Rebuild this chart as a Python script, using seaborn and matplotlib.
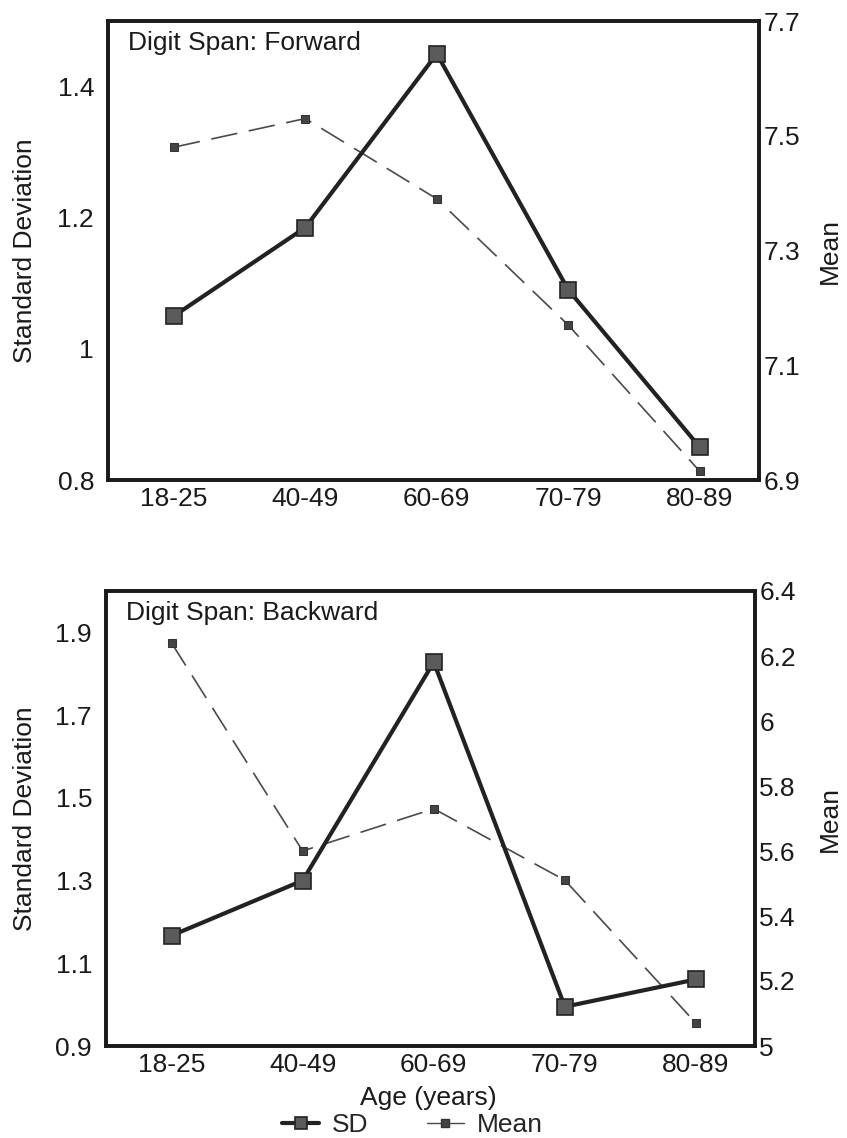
import matplotlib
matplotlib.use("Agg")
import matplotlib.pyplot as plt
import seaborn as sns
import pandas as pd
from matplotlib.lines import Line2D

sns.set_theme(style="white")
plt.rcParams['font.family'] = ['Liberation Sans', 'DejaVu Sans']

ages = ["18-25", "40-49", "60-69", "70-79", "80-89"]
fwd_sd = [1.05, 1.185, 1.45, 1.09, 0.85]
fwd_mean = [7.48, 7.53, 7.39, 7.17, 6.915]
bwd_sd = [1.167, 1.30, 1.828, 0.995, 1.061]
bwd_mean = [6.24, 5.60, 5.73, 5.51, 5.07]

FS = 19
TXT = "#1a1a1a"

fig = plt.figure(figsize=(8.47, 11.38), dpi=100)

SD_KW = dict(color="#222222", lw=3.0, marker="s", markersize=11,
             markerfacecolor="#5a5a5a", markeredgecolor="#222222", markeredgewidth=1.2)
MEAN_KW = dict(color="#4a4a4a", lw=1.2, marker="s", markersize=6,
               markerfacecolor="#444444", markeredgecolor="#333333", dashes=(16, 7))


def panel(rect, sd, mean, title, sd_lim, sd_ticks, sd_fmt, m_lim, m_ticks, m_fmt, lab_x):
    ax = fig.add_axes(rect)
    df = pd.DataFrame({"Age": ages, "SD": sd, "Mean": mean})
    ax2 = ax.twinx()
    sns.lineplot(data=df, x="Age", y="Mean", ax=ax2, sort=False, **MEAN_KW)
    sns.lineplot(data=df, x="Age", y="SD", ax=ax, sort=False, **SD_KW)
    ax.set_zorder(ax2.get_zorder() + 1)
    ax.patch.set_visible(False)
    ax.set_xlim(-0.5, 4.45)
    ax.set_ylim(*sd_lim)
    ax.set_yticks(sd_ticks)
    ax.set_yticklabels(sd_fmt)
    ax2.set_ylim(*m_lim)
    ax2.set_yticks(m_ticks)
    ax2.set_yticklabels(m_fmt)
    for a in (ax, ax2):
        for s in a.spines.values():
            s.set_linewidth(2.6)
            s.set_color("#1a1a1a")
        a.tick_params(labelsize=FS, colors=TXT, length=0)
        a.grid(False)
    ax.tick_params(axis="y", pad=10)
    ax2.tick_params(axis="y", pad=3)
    ax.tick_params(axis="x", length=5, width=0.6, direction="in", pad=5,
                   color="#888888", labelcolor=TXT)
    ax.set_xlabel("")
    ax.set_ylabel("Standard Deviation", fontsize=FS, color=TXT)
    ax2.set_ylabel("Mean", fontsize=FS, color=TXT)
    ax.yaxis.set_label_coords(lab_x[0], 0.5)
    ax2.yaxis.set_label_coords(lab_x[1], 0.5)
    ax.text(0.031, 0.978, title, transform=ax.transAxes, fontsize=FS,
            va="top", ha="left", color=TXT)
    return ax


panel([108 / 847, 1 - 480 / 1138, 651 / 847, 459 / 1138], fwd_sd, fwd_mean, "Digit Span: Forward",
      (0.8, 1.5), [0.8, 1.0, 1.2, 1.4], ["0.8", "1", "1.2", "1.4"],
      (6.9, 7.7), [6.9, 7.1, 7.3, 7.5, 7.7], ["6.9", "7.1", "7.3", "7.5", "7.7"],
      ((37 - 108) / 651, (818 - 108) / 651))

axb = panel([106 / 847, 1 - 1046 / 1138, 649 / 847, 455 / 1138], bwd_sd, bwd_mean, "Digit Span: Backward",
            (0.9, 2.0), [0.9, 1.1, 1.3, 1.5, 1.7, 1.9], ["0.9", "1.1", "1.3", "1.5", "1.7", "1.9"],
            (5.0, 6.4), [5.0, 5.2, 5.4, 5.6, 5.8, 6.0, 6.2, 6.4],
            ["5", "5.2", "5.4", "5.6", "5.8", "6", "6.2", "6.4"],
            ((37 - 106) / 649, (818 - 106) / 649))
axb.set_xlabel("Age (years)", fontsize=FS, color=TXT)
axb.xaxis.set_label_coords(0.497, -0.087)

handles = [Line2D([], [], **{k: v for k, v in SD_KW.items() if k != "markersize"}, markersize=9),
           Line2D([], [], color="#4a4a4a", lw=1.0, marker="s", markersize=6,
                  markerfacecolor="#444444", markeredgecolor="#333333")]
fig.legend(handles, ["SD", "Mean"], loc="center", bbox_to_anchor=(0.487, 0.011), ncol=2,
           frameon=False, fontsize=FS, handlelength=1.4, columnspacing=2.2, handletextpad=0.5,
           borderpad=0.1)

fig.savefig("out.png", dpi=100, facecolor="white")
